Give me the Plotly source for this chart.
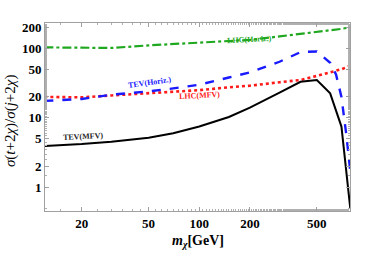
import plotly.graph_objects as go

# ---- data ----
m_tev_mfv = [12, 20, 30, 50, 70, 100, 150, 200, 300, 400, 500, 600, 700, 790]
tev_mfv = [3.95, 4.2, 4.55, 5.2, 6.0, 7.5, 10.3, 14, 23, 33, 35, 22.5, 7.5, 0.5]

m_tev_hor = [12, 20, 30, 50, 70, 100, 150, 200, 300, 400, 500, 600, 650, 700, 750, 790]
tev_hor = [17.5, 18.7, 21.5, 24, 26.5, 30, 38, 45, 64, 88, 90, 62, 42, 20, 5.5, 1.7]

m_lhc_mfv = [12, 20, 30, 50, 100, 150, 200, 300, 400, 500, 600, 700, 790]
lhc_mfv = [20, 19.7, 21, 22.5, 25, 27.5, 29, 32.5, 35, 40, 45, 50, 56]

m_lhc_hor = [12, 20, 25, 30, 50, 100, 200, 300, 400, 500, 600, 700, 790]
lhc_hor = [103, 101, 100, 101, 110, 121, 132, 148, 160, 170, 180, 190, 200]

x_ticks = [20, 50, 100, 200, 500]
y_ticks = [1, 2, 5, 10, 20, 50, 100, 200]

SERIF = "Liberation Serif"

fig = go.Figure()
fig.add_trace(go.Scatter(x=m_lhc_hor, y=lhc_hor, mode="lines",
                         line=dict(color="#1fa81f", width=2.2, dash="dashdot")))
fig.add_trace(go.Scatter(x=m_lhc_mfv, y=lhc_mfv, mode="lines",
                         line=dict(color="#ff1a1a", width=2.6, dash="dot")))
fig.add_trace(go.Scatter(x=m_tev_hor, y=tev_hor, mode="lines",
                         line=dict(color="#1a1aff", width=2.4, dash="dash")))
fig.add_trace(go.Scatter(x=m_tev_mfv, y=tev_mfv, mode="lines",
                         line=dict(color="black", width=2)))

labels = [
    ("LHC(Horiz.)", "#1fa81f", 0.672, 0.912, -3),
    ("TEV(Horiz.)", "#1a1aff", 0.343, 0.681, -8),
    ("LHC(MFV)", "#ff1a1a", 0.505, 0.614, -3),
    ("TEV(MFV)", "#222222", 0.125, 0.396, -3),
]
for txt, col, xp, yp, ang in labels:
    fig.add_annotation(text=f"<b>{txt}</b>", x=xp, y=yp, xref="paper", yref="paper",
                       xanchor="center", yanchor="middle",
                       showarrow=False, textangle=ang,
                       font=dict(family=SERIF, size=8, color=col))

# axis titles as annotations (placed relative to the plot area)
fig.add_annotation(text="<b><i>m</i><sub><i>χ</i></sub>[GeV]</b>",
                   x=0.50, y=-0.163, xref="paper", yref="paper", showarrow=False,
                   xanchor="center", yanchor="middle",
                   font=dict(family=SERIF, size=14, color="black"))
fig.add_annotation(text="<i>σ</i>(<i>t</i>+2<i>χ</i>)/<i>σ</i>(<i>j</i>+2<i>χ</i>)",
                   x=-0.111, y=0.479, xref="paper", yref="paper", showarrow=False,
                   xanchor="center", yanchor="middle", textangle=-90,
                   font=dict(family=SERIF, size=15, color="black"))

axis_common = dict(
    showline=True, linecolor="#a0a0a0", linewidth=1, mirror="allticks",
    ticks="inside", ticklen=4, tickcolor="#a0a0a0", showgrid=False, zeroline=False,
    automargin=False,
    tickfont=dict(family=SERIF, size=13, color="black"),
    minor=dict(ticks="inside", ticklen=2, tickcolor="#b0b0b0", showgrid=False),
)

fig.update_xaxes(type="log", range=[1.083, 2.896], tickvals=x_ticks,
                 ticktext=[f"<b>{v}</b>" for v in x_ticks], **axis_common)
fig.update_yaxes(type="log", range=[-0.338, 2.363], tickvals=y_ticks,
                 ticktext=[f"<b>{v}</b>" for v in y_ticks], **axis_common)

fig.update_layout(width=374, height=253, showlegend=False,
                  margin=dict(l=45, r=24, t=23, b=42),
                  plot_bgcolor="white", paper_bgcolor="white")

fig.write_html("out.html", config={"displayModeBar": False},
               post_script="document.body.style.margin='0';document.body.style.overflow='hidden';")
